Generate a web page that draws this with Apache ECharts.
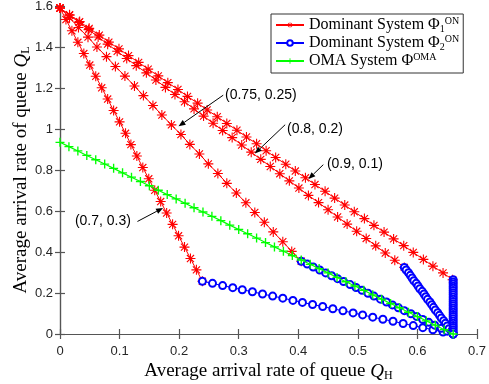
<!DOCTYPE html>
<html><head><meta charset="utf-8">
<script src="https://cdn.jsdelivr.net/npm/echarts@6/dist/echarts.min.js"></script>
<style>html,body{margin:0;padding:0;background:#fff}#c{width:489px;height:384px}</style>
</head><body><div id="c"></div>
<script>
// ---- tick labels ----
const xTickLabels = ['0','0.1','0.2','0.3','0.4','0.5','0.6','0.7'];
const yTickLabels = ['0','0.2','0.4','0.6','0.8','1','1.2','1.4','1.6'];

// ---- Dominant System Phi1 (red) for weights (0.7,0.3), (0.75,0.25), (0.8,0.2), (0.9,0.1) ----
const r70X = [0.000,0.010,0.020,0.030,0.040,0.050,0.060,0.070,0.080,0.090,0.100,0.110,0.119,0.129,0.139,0.149,0.159,0.169,0.179,0.189,0.199,0.209,0.219,0.229,0.239];
const r70Y = [1.590,1.534,1.479,1.423,1.368,1.312,1.257,1.201,1.146,1.090,1.035,0.979,0.924,0.868,0.812,0.757,0.701,0.646,0.590,0.535,0.479,0.424,0.368,0.313,0.257];
const r75X = [0.000,0.016,0.031,0.047,0.062,0.078,0.093,0.109,0.125,0.140,0.156,0.171,0.187,0.203,0.218,0.234,0.249,0.265,0.280,0.296,0.312,0.327,0.343,0.358,0.374,0.389,0.405];
const r75Y = [1.590,1.543,1.495,1.448,1.400,1.353,1.305,1.258,1.210,1.163,1.115,1.068,1.020,0.973,0.925,0.878,0.830,0.783,0.735,0.688,0.640,0.593,0.545,0.498,0.450,0.403,0.355];
const r80X = [0.000,0.016,0.032,0.048,0.064,0.080,0.096,0.112,0.128,0.145,0.161,0.177,0.193,0.209,0.225,0.241,0.257,0.273,0.289,0.305,0.321,0.337,0.353,0.369,0.385,0.401,0.417,0.434,0.450,0.466,0.482,0.498,0.514,0.530,0.546,0.562,0.578];
const r80Y = [1.590,1.555,1.520,1.485,1.449,1.414,1.379,1.344,1.309,1.274,1.239,1.203,1.168,1.133,1.098,1.063,1.028,0.993,0.958,0.922,0.887,0.852,0.817,0.782,0.747,0.712,0.676,0.641,0.606,0.571,0.536,0.501,0.466,0.430,0.395,0.360,0.325];
const r90X = [0.000,0.016,0.033,0.049,0.066,0.082,0.099,0.115,0.132,0.148,0.165,0.181,0.198,0.214,0.231,0.247,0.264,0.280,0.297,0.313,0.330,0.346,0.362,0.379,0.395,0.412,0.428,0.445,0.461,0.478,0.494,0.511,0.527,0.544,0.560,0.577,0.593,0.610,0.626,0.643,0.659];
const r90Y = [1.590,1.557,1.524,1.491,1.458,1.424,1.391,1.358,1.325,1.292,1.259,1.226,1.193,1.159,1.126,1.093,1.060,1.027,0.994,0.961,0.928,0.894,0.861,0.828,0.795,0.762,0.729,0.696,0.663,0.629,0.596,0.563,0.530,0.497,0.464,0.431,0.398,0.364,0.331,0.298,0.265];

// ---- Dominant System Phi2 (blue) ----
const b70X = [0.239,0.256,0.273,0.290,0.306,0.323,0.340,0.357,0.374,0.391,0.407,0.424,0.441,0.458,0.475,0.492,0.508,0.525,0.542,0.559,0.576,0.593,0.609,0.626,0.643,0.660];
const b70Y = [0.257,0.247,0.236,0.226,0.216,0.206,0.195,0.185,0.175,0.164,0.154,0.144,0.134,0.123,0.113,0.103,0.093,0.082,0.072,0.062,0.051,0.041,0.031,0.021,0.010,0.000];
const b75X = [0.405,0.415,0.425,0.436,0.446,0.456,0.466,0.476,0.487,0.497,0.507,0.517,0.527,0.538,0.548,0.558,0.568,0.578,0.589,0.599,0.609,0.619,0.629,0.640,0.650,0.660];
const b75Y = [0.355,0.341,0.327,0.312,0.298,0.284,0.270,0.256,0.241,0.227,0.213,0.199,0.185,0.170,0.156,0.142,0.128,0.114,0.099,0.085,0.071,0.057,0.043,0.028,0.014,0.000];
const b80X = [0.578,0.581,0.585,0.588,0.591,0.594,0.598,0.601,0.604,0.608,0.611,0.614,0.617,0.621,0.624,0.627,0.630,0.634,0.637,0.640,0.644,0.647,0.650,0.653,0.657,0.660];
const b80Y = [0.325,0.312,0.299,0.286,0.273,0.260,0.247,0.234,0.221,0.208,0.195,0.182,0.169,0.156,0.143,0.130,0.117,0.104,0.091,0.078,0.065,0.052,0.039,0.026,0.013,0.000];
const b90X = [0.660,0.660,0.660,0.660,0.660,0.660,0.660,0.660,0.660,0.660,0.660,0.660,0.660,0.660,0.660,0.660,0.660,0.660,0.660,0.660,0.660,0.660,0.660,0.660,0.660,0.660];
const b90Y = [0.265,0.254,0.244,0.233,0.223,0.212,0.201,0.191,0.180,0.170,0.159,0.148,0.138,0.127,0.117,0.106,0.095,0.085,0.074,0.064,0.053,0.042,0.032,0.021,0.011,0.000];

// ---- OMA System (green) ----
const omaX = [0.000,0.015,0.030,0.045,0.060,0.075,0.090,0.105,0.120,0.135,0.150,0.165,0.180,0.195,0.210,0.225,0.240,0.255,0.270,0.285,0.300,0.315,0.330,0.345,0.360,0.375,0.390,0.405,0.420,0.435,0.450,0.465,0.480,0.495,0.510,0.525,0.540,0.555,0.570,0.585,0.600,0.615,0.630,0.645,0.660];
const omaY = [0.935,0.914,0.893,0.871,0.850,0.829,0.808,0.786,0.765,0.744,0.723,0.701,0.680,0.659,0.638,0.616,0.595,0.574,0.553,0.531,0.510,0.489,0.468,0.446,0.425,0.404,0.383,0.361,0.340,0.319,0.298,0.276,0.255,0.234,0.213,0.191,0.170,0.149,0.128,0.106,0.085,0.064,0.043,0.021,0.000];

// ---- annotations (data coordinates) ----
const annLabels = ['(0.75, 0.25)','(0.8, 0.2)','(0.9, 0.1)','(0.7, 0.3)'];
const annText   = [[0.277,1.165],[0.381,0.997],[0.448,0.831],[0.025,0.549]];
const annFrom   = [[0.274,1.165],[0.378,1.021],[0.442,0.826],[0.130,0.549]];
const annTo     = [[0.199,1.013],[0.327,0.880],[0.417,0.756],[0.173,0.615]];

const zip = (xs, ys) => xs.map((x, i) => [x, ys[i]]);
const ASTER = 'path://M-1,-0.11L1,-0.11L1,0.11L-1,0.11Z M-0.11,-1L0.11,-1L0.11,1L-0.11,1Z M-0.63,-0.79L0.79,0.63L0.63,0.79L-0.79,-0.63Z M-0.79,0.63L0.63,-0.79L0.79,-0.63L-0.63,0.79Z';
const PLUS = 'path://M-1,-0.15L1,-0.15L1,0.15L-1,0.15Z M-0.15,-1L0.15,-1L0.15,1L-0.15,1Z';
const SERIF = '"Liberation Serif","DejaVu Serif",serif';
const SANS = '"Liberation Sans",Arial,sans-serif';

function redSeries(xs, ys) {
  return {type:'line', name:'phi1', data:zip(xs, ys), symbol:ASTER, symbolSize:10,
    itemStyle:{color:'#ff0000'}, lineStyle:{color:'#ff0000', width:1}, animation:false, z:2};
}
function blueSeries(xs, ys) {
  return {type:'line', name:'phi2', data:zip(xs, ys), symbol:'emptyCircle', symbolSize:7,
    itemStyle:{color:'#0000ff', borderWidth:1}, lineStyle:{color:'#0000ff', width:1}, animation:false, z:3};
}

const chart = echarts.init(document.getElementById('c'), null, {renderer:'canvas'});
const axisLineStyle = {color:'#555', width:1.2};
const legendNames = {
  phi1:'{t|Dominant System Φ}{s|1}{p|ON}',
  phi2:'{t|Dominant System Φ}{s|2}{p|ON}',
  oma:'{t|OMA System Φ}{p|OMA}'
};
const nameRich = {
  t:{fontFamily:SERIF, fontSize:19, color:'#000'},
  q:{fontFamily:SERIF, fontSize:19, color:'#000', fontStyle:'italic'},
  s:{fontFamily:SERIF, fontSize:12, color:'#000', verticalAlign:'bottom', padding:[9,0,0,0]}
};
const option = {
  backgroundColor:'#fff',
  animation:false,
  grid:{left:60, right:12, top:6, bottom:50, show:false, containLabel:false, outerBoundsMode:'none'},
  legend:{
    orient:'vertical', left:271, top:14, padding:[2,4,3,4], itemGap:0,
    itemWidth:28, itemHeight:7,
    borderColor:'#333', borderWidth:1, backgroundColor:'#fff',
    data:['phi1','phi2','oma'],
    formatter: n => legendNames[n],
    textStyle:{fontFamily:SERIF, fontSize:16, color:'#000', lineHeight:18,
      rich:{
        t:{fontFamily:SERIF, fontSize:16, color:'#000', lineHeight:18},
        s:{fontFamily:SERIF, fontSize:10, color:'#000', lineHeight:18, verticalAlign:'bottom', padding:[6,0,0,0]},
        p:{fontFamily:SERIF, fontSize:10, color:'#000', lineHeight:18, verticalAlign:'top', padding:[0,0,6,0]}
      }}
  },
  xAxis:[{
    type:'value', min:0, max:0.7, interval:0.1, position:'bottom',
    axisLine:{show:true, lineStyle:axisLineStyle},
    axisTick:{show:true, inside:true, length:5, lineStyle:axisLineStyle},
    splitLine:{show:false},
    axisLabel:{formatter:v => xTickLabels[Math.round(v/0.1)], fontFamily:SANS, fontSize:13, color:'#262626', margin:11},
    name:'{t|Average arrival rate of queue }{q|Q}{s|H}', nameLocation:'middle', nameGap:27, nameMoveOverlap:false,
    nameTextStyle:{rich:nameRich}
  },{
    type:'value', min:0, max:0.7, interval:0.1, position:'top',
    axisLine:{show:true, lineStyle:axisLineStyle},
    axisTick:{show:true, inside:true, length:5, lineStyle:axisLineStyle},
    axisLabel:{show:false}, splitLine:{show:false}
  }],
  yAxis:[{
    type:'value', min:0, max:1.6, interval:0.2, position:'left',
    axisLine:{show:true, lineStyle:axisLineStyle},
    axisTick:{show:true, inside:true, length:5, lineStyle:axisLineStyle},
    splitLine:{show:false},
    axisLabel:{formatter:v => yTickLabels[Math.round(v/0.2)], fontFamily:SANS, fontSize:13, color:'#262626', margin:7},
    name:'{t|Average arrival rate of queue }{q|Q}{s|L}', nameLocation:'middle', nameGap:28, nameRotate:90, nameMoveOverlap:false,
    nameTextStyle:{rich:nameRich}
  },{
    type:'value', min:0, max:1.6, interval:0.2, position:'right',
    axisLine:{show:true, lineStyle:axisLineStyle},
    axisTick:{show:true, inside:true, length:5, lineStyle:axisLineStyle},
    axisLabel:{show:false}, splitLine:{show:false}
  }],
  series:[
    redSeries(r70X, r70Y), redSeries(r75X, r75Y), redSeries(r80X, r80Y), redSeries(r90X, r90Y),
    blueSeries(b70X, b70Y), blueSeries(b75X, b75Y), blueSeries(b80X, b80Y), blueSeries(b90X, b90Y),
    {type:'line', name:'oma', data:zip(omaX, omaY), symbol:PLUS, symbolSize:9,
     itemStyle:{color:'#00ff00'}, lineStyle:{color:'#00ff00', width:1.2}, animation:false, z:4}
  ]
};
chart.setOption(option);

// annotations with arrows, placed in data coordinates
const gfx = [];
annLabels.forEach((lab, i) => {
  const tp = chart.convertToPixel({gridIndex:0}, annText[i]);
  const p0 = chart.convertToPixel({gridIndex:0}, annFrom[i]);
  const p1 = chart.convertToPixel({gridIndex:0}, annTo[i]);
  gfx.push({type:'text', x:tp[0], y:tp[1], z:100,
    style:{text:lab, font:'14px "Liberation Sans", Arial, sans-serif', fill:'#000', align:'left', verticalAlign:'middle'}});
  const dx = p1[0]-p0[0], dy = p1[1]-p0[1], L = Math.hypot(dx, dy);
  const ux = dx/L, uy = dy/L, hl = 7, hw = 2.8;
  const bx = p1[0]-ux*hl, by = p1[1]-uy*hl;
  gfx.push({type:'line', z:100, shape:{x1:p0[0], y1:p0[1], x2:bx, y2:by}, style:{stroke:'#000', lineWidth:1}});
  gfx.push({type:'polygon', z:100, shape:{points:[[p1[0],p1[1]],[bx-uy*hw, by+ux*hw],[bx+uy*hw, by-ux*hw]]}, style:{fill:'#000'}});
});
chart.setOption({graphic:gfx});
</script>
</body></html>
